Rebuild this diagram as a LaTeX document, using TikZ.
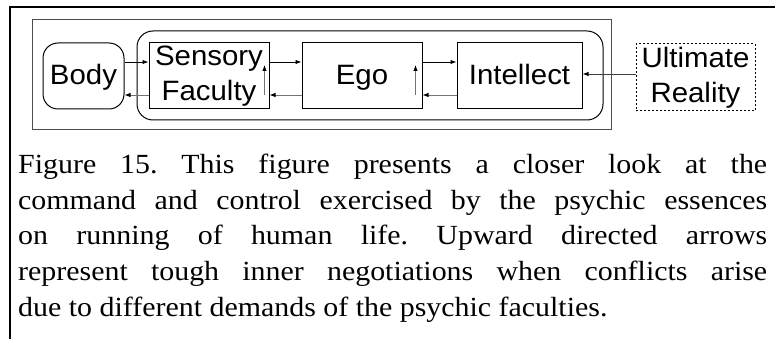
\documentclass[tikz,border=0pt]{standalone}
\usepackage{fontspec}
\setmainfont{Liberation Serif}
\newfontfamily\capfont[FakeStretch=1.08]{Liberation Serif}
\newfontfamily\boxfont[FakeStretch=1.05]{Liberation Sans}
\usetikzlibrary{arrows.meta}
\tikzset{
  box/.style={draw, line width=1pt, inner sep=0pt, align=center,
    font=\boxfont\fontsize{28}{35}\selectfont},
  one/.style={text height=20pt, text depth=2pt},
  tipsty/.style={-{Latex[length=6pt,width=4.5pt,color=black]}, line width=0.9pt},
  fwd/.style={tipsty, draw=black},
  back/.style={tipsty, draw=black!55},
  up/.style={tipsty, draw=black!55},
}
\begin{document}
\begin{tikzpicture}[x=1pt,y=-1pt]
\useasboundingbox (0,0) rectangle (775,339);
% outer frame (partial)
\draw[line width=1.6pt] (775,7) -- (10,7) -- (10,339);
% inner rectangle
\draw[line width=1pt, draw=black!70] (32,20) rectangle (611,130);
% rounded container
\draw[line width=1pt, rounded corners=16pt] (137,31) rectangle (603,120);
% boxes
\node[box, one, rounded corners=15pt, minimum width=81pt, minimum height=66pt] (body) at (83.5,76) {Body};
\node[box, minimum width=120pt, minimum height=66pt] (sens) at (209,76) {Sensory\\Faculty};
\node[box, one, minimum width=120pt, minimum height=66pt] (ego) at (362,76) {Ego};
\node[box, one, minimum width=125pt, minimum height=66pt] (int) at (519.5,76) {Intellect};
\node[box, dash pattern=on 2pt off 2pt, line width=1pt, minimum width=119pt, minimum height=67pt] (ult) at (695.5,77.5) {Ultimate\\Reality};
% arrows
\draw[fwd] ([yshift=14pt]body.east) -- ([yshift=14pt]sens.west);
\draw[back] ([yshift=-19pt]sens.west) -- ([yshift=-19pt]body.east);
\draw[fwd] ([yshift=14pt]sens.east) -- ([yshift=14pt]ego.west);
\draw[back] ([yshift=-19pt]ego.west) -- ([yshift=-19pt]sens.east);
\draw[fwd] ([yshift=14pt]ego.east) -- ([yshift=14pt]int.west);
\draw[back] ([yshift=-19pt]int.west) -- ([yshift=-19pt]ego.east);
\draw[tipsty, draw=black!75] ([yshift=3.5pt]ult.west) -- ([yshift=2pt]int.east);
\draw[up] ([xshift=-5pt,yshift=-19pt]sens.east) -- ([xshift=-5pt,yshift=11pt]sens.east);
\draw[up] ([xshift=-7pt,yshift=-19pt]ego.east) -- ([xshift=-7pt,yshift=11pt]ego.east);
% caption
\node[anchor=base west, inner sep=0pt, text width=749pt, align=justify,
  font=\capfont\fontsize{27.7}{35.7}\selectfont] (cap) at (18,173.3)
  {\frenchspacing\hyphenpenalty=10000 Figure 15. This figure presents a closer look at the\linebreak
   command and control exercised by the psychic essences\linebreak
   on running of human life. Upward directed arrows\linebreak
   represent tough inner negotiations when conflicts arise\linebreak
   due to different demands of the psychic faculties.};
\end{tikzpicture}
\end{document}
